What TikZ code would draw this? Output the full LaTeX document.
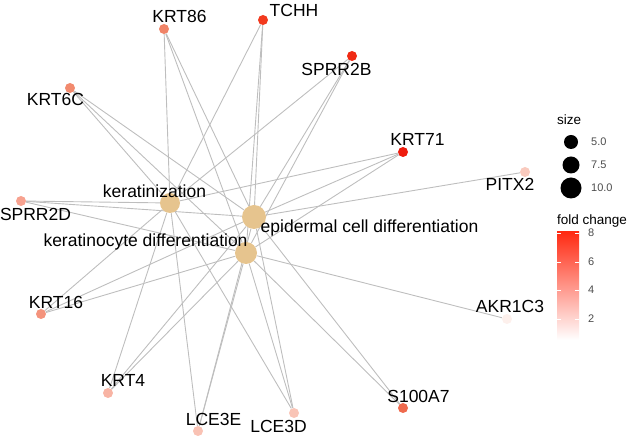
\documentclass[tikz,border=0pt]{standalone}
\usepackage{fontspec}
\setmainfont{Liberation Sans}
\usepackage{tikz}
\usetikzlibrary{backgrounds}
\definecolor{termtan}{HTML}{E6C48E}
\definecolor{edgegray}{HTML}{BEBEBE}
\definecolor{fcred}{HTML}{FF2A12}
\definecolor{fcKRTeightysix}{HTML}{F08468}
\definecolor{fcTCHH}{HTML}{F23A1E}
\definecolor{fcSPRRtwoB}{HTML}{F02A14}
\definecolor{fcKRTsixC}{HTML}{F28A6E}
\definecolor{fcKRTseventyone}{HTML}{EE1C0E}
\definecolor{fcPITX}{HTML}{F9CABE}
\definecolor{fcSPRRtwoD}{HTML}{F7A290}
\definecolor{fcKRTsixteen}{HTML}{F4937C}
\definecolor{fcAKR}{HTML}{FDF0EC}
\definecolor{fcKRTfour}{HTML}{F8B4A4}
\definecolor{fcS}{HTML}{EF6A4E}
\definecolor{fcLCEE}{HTML}{F9C2B4}
\definecolor{fcLCED}{HTML}{F9C4B6}
\tikzset{gene/.style={circle, inner sep=0pt, minimum size=10pt, fill=#1},
 term/.style={circle, inner sep=0pt, minimum size=#1, fill=termtan},
 genelabel/.style={anchor=base, inner sep=0pt, font=\fontsize{17.5}{20}\selectfont},
 link/.style={draw=edgegray, line width=0.9pt},
 legendtitle/.style={anchor=base west, inner sep=0pt, font=\fontsize{13.5}{16}\selectfont},
 legendnum/.style={anchor=west, inner sep=0pt, font=\fontsize{11}{13}\selectfont, text=black!70},
 sizedot/.style={circle, inner sep=0pt, minimum size=#1, fill=black},
 }

\begin{document}
\begin{tikzpicture}[x=1pt, y=-1pt]
        \useasboundingbox (0,0) rectangle (630,443);
        % term nodes
        \node[term=20pt] (kz) at (170, 203) {};
        \node[term=24pt] (ecd) at (254, 217) {};
        \node[term=22pt] (kcd) at (246, 253) {};
        % gene nodes
        \node[gene=fcKRTeightysix] (KRT86) at (164, 29) {};
        \node[gene=fcTCHH] (TCHH) at (263, 20) {};
        \node[gene=fcSPRRtwoB] (SPRR2B) at (352, 56) {};
        \node[gene=fcKRTsixC] (KRT6C) at (70, 88) {};
        \node[gene=fcKRTseventyone] (KRT71) at (403, 152) {};
        \node[gene=fcPITX] (PITX2) at (525, 172) {};
        \node[gene=fcSPRRtwoD] (SPRR2D) at (21, 201) {};
        \node[gene=fcKRTsixteen] (KRT16) at (41, 314) {};
        \node[gene=fcAKR] (AKR1C3) at (507, 319) {};
        \node[gene=fcKRTfour] (KRT4) at (108, 393) {};
        \node[gene=fcS] (S100A7) at (403, 408) {};
        \node[gene=fcLCEE] (LCE3E) at (198, 431) {};
        \node[gene=fcLCED] (LCE3D) at (294, 413) {};
        % edges
        \begin{scope}[on background layer]
            \foreach \g in {KRT86, TCHH, SPRR2B, KRT6C, KRT71, SPRR2D, KRT16, KRT4, LCE3E, LCE3D}
                \draw[link] (\g) -- (kz);
            \foreach \g in {KRT86, TCHH, SPRR2B, KRT6C, KRT71, PITX2, SPRR2D, KRT16, KRT4, LCE3E, LCE3D, S100A7}
                \draw[link] (\g) -- (ecd);
            \foreach \g in {KRT86, TCHH, SPRR2B, KRT6C, KRT71, SPRR2D, KRT16, KRT4, LCE3E, LCE3D, S100A7, AKR1C3}
                \draw[link] (\g) -- (kcd);
        \end{scope}
        % labels
        \node[genelabel] (kzlab) at (154.5, 198) {keratinization};
        \node[genelabel] (ecdlab) at (369.5, 233) {epidermal cell differentiation};
        \node[genelabel] (kcdlab) at (145.5, 247) {keratinocyte differentiation};
        \node[genelabel] (KRT86lab) at (179.5, 23) {KRT86};
        \node[genelabel] (TCHHlab) at (294, 17) {TCHH};
        \node[genelabel] (SPRR2Blab) at (336.5, 76) {SPRR2B};
        \node[genelabel] (KRT6Clab) at (55.5, 106) {KRT6C};
        \node[genelabel] (KRT71lab) at (417.5, 146) {KRT71};
        \node[genelabel] (PITX2lab) at (510, 191) {PITX2};
        \node[genelabel] (SPRR2Dlab) at (35.5, 221) {SPRR2D};
        \node[genelabel] (KRT16lab) at (56, 309) {KRT16};
        \node[genelabel] (AKR1C3lab) at (510, 313) {AKR1C3};
        \node[genelabel] (KRT4lab) at (123, 387) {KRT4};
        \node[genelabel] (S100A7lab) at (418.5, 403) {S100A7};
        \node[genelabel] (LCE3Elab) at (213.5, 426) {LCE3E};
        \node[genelabel] (LCE3Dlab) at (278.5, 433) {LCE3D};
        % size legend
        \node[legendtitle] (sizetitle) at (557, 125) {size};
        \node[sizedot=14pt] (s5) at (571, 142) {};
        \node[sizedot=17pt] (s75) at (571, 165) {};
        \node[sizedot=21pt] (s10) at (571, 188) {};
        \node[legendnum] at (591, 142) {5.0};
        \node[legendnum] at (591, 165) {7.5};
        \node[legendnum] at (591, 188) {10.0};
        % fold change legend
        \node[legendtitle] (fctitle) at (557, 225) {fold change};
        \shade[bottom color=white, top color=fcred] (557, 232) rectangle (579, 340);
        \foreach \v/\y in {8/233, 6/262, 4/290, 2/319} {
            \draw[white, line width=0.6pt] (557, \y) -- (561, \y);
            \draw[white, line width=0.6pt] (575, \y) -- (579, \y);
            \node[legendnum] at (588, \y) {\v};
        }
    \end{tikzpicture}
\end{document}
